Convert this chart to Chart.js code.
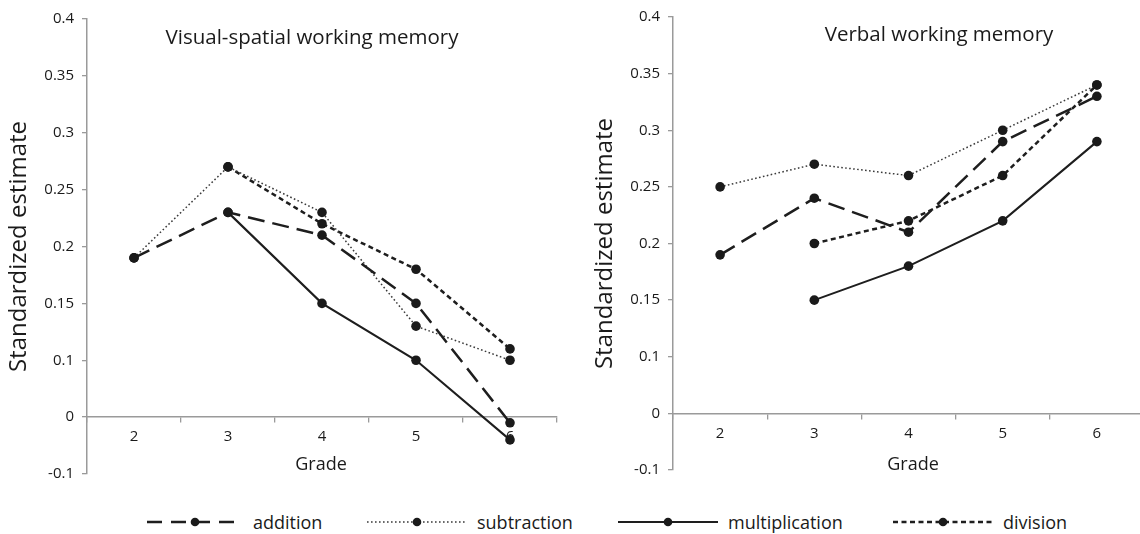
<!DOCTYPE html>
<html>
<head>
<meta charset="utf-8">
<script src="https://cdn.jsdelivr.net/npm/chart.js@4.4.1/dist/chart.umd.min.js"></script>
<style>
html,body{margin:0;padding:0;background:#fff;}
body{width:1140px;height:534px;position:relative;overflow:hidden;font-family:'Open Sans',sans-serif;color:#1a1a1a;}
.panel{position:absolute;top:0;width:570px;height:500px;}
.lg{position:absolute;top:510px;height:24px;display:flex;align-items:center;font-size:18px;white-space:nowrap;}
.lg svg{display:block;margin-right:10px;}
</style>
</head>
<body>
<div class="panel" style="left:0"><canvas id="c1"></canvas></div>
<div class="panel" style="left:586px"><canvas id="c2"></canvas></div>
<div id="legend"></div>
<script>
// ---------- data ----------
const grades = ['2', '3', '4', '5', '6'];
const seriesNames = ['addition', 'subtraction', 'multiplication', 'division'];

const vsAddition       = [0.19, 0.23, 0.21, 0.15, -0.01];
const vsSubtraction    = [0.19, 0.27, 0.23, 0.13, 0.10];
const vsMultiplication = [null, 0.23, 0.15, 0.10, -0.04];
const vsDivision       = [null, 0.27, 0.22, 0.18, 0.11];

const vbAddition       = [0.19, 0.24, 0.21, 0.29, 0.33];
const vbSubtraction    = [0.25, 0.27, 0.26, 0.30, 0.34];
const vbMultiplication = [null, 0.15, 0.18, 0.22, 0.29];
const vbDivision       = [null, 0.20, 0.22, 0.26, 0.34];

const yTicks      = [-0.1, 0, 0.1, 0.15, 0.2, 0.25, 0.3, 0.35, 0.4];
const yTickLabels = ['-0.1', '0', '0.1', '0.15', '0.2', '0.25', '0.3', '0.35', '0.4'];

const panelTitles = ['Visual-spatial working memory', 'Verbal working memory'];
const yTitle = 'Standardized estimate';
const xTitle = 'Grade';

// ---------- styles ----------
const FONT = "'Open Sans', sans-serif";
const TEXT = '#1a1a1a';
const AXIS = '#9a9a9a';
const lineStyles = [
  { dash: [17, 8], width: 2.5, color: '#1e1e1e' },  // addition
  { dash: [1.6, 2.4], width: 1.5, color: '#3a3a3a' }, // subtraction
  { dash: [], width: 2.1, color: '#1e1e1e' },       // multiplication
  { dash: [5, 3.5], width: 2.5, color: '#1e1e1e' }  // division
];

// Axis as drawn in the figure: below 0.1 the spacing per 0.1 is halved
const BREAK = 0.1;
function warp(v) { return v >= BREAK ? v : BREAK + (v - BREAK) / 2; }
function unwarp(w) { return w >= BREAK ? w : BREAK + (w - BREAK) * 2; }

class BrokenLinearScale extends Chart.LinearScale {
  getPixelForValue(value) {
    if (value === null || value === undefined) return NaN;
    const a = warp(this.min), b = warp(this.max);
    return this.getPixelForDecimal((warp(value) - a) / (b - a));
  }
  getValueForPixel(pixel) {
    const a = warp(this.min), b = warp(this.max);
    return unwarp(a + this.getDecimalForPixel(pixel) * (b - a));
  }
}
BrokenLinearScale.id = 'brokenLinear';
BrokenLinearScale.defaults = Chart.LinearScale.defaults;
Chart.register(BrokenLinearScale);

const panelText = {
  id: 'panelText',
  afterDraw(chart, args, o) {
    const ctx = chart.ctx;
    ctx.save();
    ctx.fillStyle = TEXT;
    ctx.textAlign = 'center';
    ctx.textBaseline = 'middle';
    ctx.font = `${o.titleSize}px ${FONT}`;
    ctx.fillText(o.title, o.titleX, o.titleY);
    ctx.font = `${o.xTitleSize}px ${FONT}`;
    ctx.fillText(o.xTitle, o.xTitleX, o.xTitleY);
    ctx.restore();
  }
};

function makeDatasets(arrs) {
  return arrs.map((d, i) => ({
    label: seriesNames[i],
    data: d,
    borderColor: lineStyles[i].color,
    borderWidth: lineStyles[i].width,
    borderDash: lineStyles[i].dash,
    backgroundColor: '#1a1a1a',
    pointBackgroundColor: '#1a1a1a',
    pointBorderColor: '#1a1a1a',
    pointBorderWidth: 0,
    pointRadius: 4.8,
    pointHoverRadius: 4.8,
    tension: 0,
    fill: false,
    spanGaps: false
  }));
}

function makeChart(id, arrs, pad, text) {
  return new Chart(document.getElementById(id), {
    type: 'line',
    data: { labels: grades, datasets: makeDatasets(arrs) },
    options: {
      responsive: true,
      maintainAspectRatio: false,
      animation: false,
      layout: { padding: pad },
      plugins: { legend: { display: false }, title: { display: false }, tooltip: { enabled: false }, panelText: text },
      scales: {
        x: {
          type: 'category',
          position: { y: 0 },
          offset: true,
          grid: { display: true, offset: true, drawOnChartArea: false, drawTicks: true, tickLength: 5, color: AXIS, lineWidth: 1.3 },
          border: { display: true, color: AXIS, width: 1.5 },
          ticks: { color: TEXT, font: { family: FONT, size: 15 }, padding: 6, maxRotation: 0, autoSkip: false }
        },
        y: {
          type: 'brokenLinear',
          position: 'left',
          min: -0.1,
          max: 0.4,
          afterBuildTicks: (s) => { s.ticks = yTicks.map(v => ({ value: v })); },
          afterFit: (s) => { s.width = 87; },
          grid: { display: true, drawOnChartArea: false, drawTicks: true, tickLength: 5, color: AXIS, lineWidth: 1.3 },
          border: { display: true, color: AXIS, width: 1.5 },
          ticks: {
            color: TEXT, font: { family: FONT, size: 15 }, padding: 8, autoSkip: false,
            callback: (v) => { const i = yTicks.indexOf(v); return i >= 0 ? yTickLabels[i] : ''; }
          },
          title: { display: true, text: yTitle, color: TEXT, font: { family: FONT, size: 24 }, padding: { top: 5, bottom: 0 } }
        }
      }
    },
    plugins: [panelText]
  });
}

makeChart('c1', [vsAddition, vsSubtraction, vsMultiplication, vsDivision],
  { top: 19, bottom: 26, left: 0, right: 13 },
  { title: panelTitles[0], titleSize: 20.5, titleX: 312, titleY: 38, xTitle: xTitle, xTitleSize: 18, xTitleX: 321, xTitleY: 465 });

makeChart('c2', [vbAddition, vbSubtraction, vbMultiplication, vbDivision],
  { top: 17, bottom: 30, left: 0, right: 12 },
  { title: panelTitles[1], titleSize: 20.5, titleX: 353, titleY: 35, xTitle: xTitle, xTitleSize: 18, xTitleX: 327, xTitleY: 465 });

// ---------- shared legend ----------
const legendPos = [
  { sx: 147, sw: 96 },
  { sx: 367, sw: 100 },
  { sx: 618, sw: 100 },
  { sx: 893, sw: 100 }
];
const legendDash = ['15 9', '1.6 2.4', '', '5 3.5'];
const lg = document.getElementById('legend');
seriesNames.forEach((name, i) => {
  const p = legendPos[i], st = lineStyles[i];
  const div = document.createElement('div');
  div.className = 'lg';
  div.style.left = p.sx + 'px';
  const h = 24, cy = 12;
  div.innerHTML =
    `<svg width="${p.sw}" height="${h}"><line x1="0" y1="${cy}" x2="${p.sw}" y2="${cy}" stroke="${st.color}" stroke-width="${st.width}" ${legendDash[i] ? `stroke-dasharray="${legendDash[i]}"` : ''}/>` +
    `<circle cx="${p.sw / 2}" cy="${cy}" r="4.3" fill="#1a1a1a"/></svg><span>${name}</span>`;
  lg.appendChild(div);
});
</script>
</body>
</html>
